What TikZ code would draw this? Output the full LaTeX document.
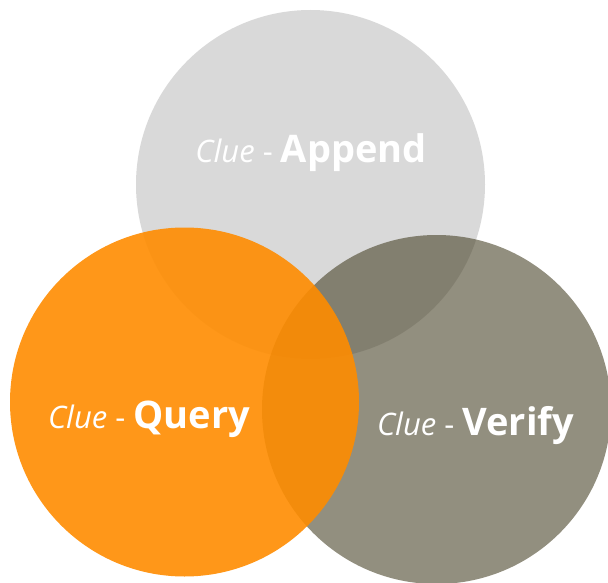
\documentclass[tikz,border=0pt]{standalone}
\usepackage{fontspec}
\setmainfont{Open Sans}
\definecolor{appendgray}{HTML}{D9D9D9}
\definecolor{verifytan}{HTML}{494429}
\definecolor{queryorange}{HTML}{FF8C00}
\begin{document}
\begin{tikzpicture}[x=1pt,y=-1pt,
  venn/.style={circle,minimum size=349pt,inner sep=0pt,draw=none},
  label/.style={anchor=base,text=white,inner sep=0pt}]
  \useasboundingbox (0,0) rectangle (608,583);
  \clip (0,0) rectangle (608,583);
  % three overlapping sets
  \node[venn,fill=appendgray] (cappend) at (310.5,184.5) {};
  \node[venn,fill=verifytan,fill opacity=0.6] (cverify) at (436.5,409.5) {};
  \node[venn,fill=queryorange,fill opacity=0.9] (cquery) at (184.5,402) {};
  % labels: light italic prefix, bold set name
  \newcommand{\cluelabel}[1]{\fontsize{31}{34}\selectfont{\itshape Clue} - {\fontsize{38}{40}\selectfont\bfseries #1}}
  \node[label] (tappend) at (311,163) {\cluelabel{Append}};
  \node[label] (tquery) at (149,428) {\cluelabel{Query}};
  \node[label] (tverify) at (475.5,435) {\cluelabel{Verify}};
\end{tikzpicture}
\end{document}
